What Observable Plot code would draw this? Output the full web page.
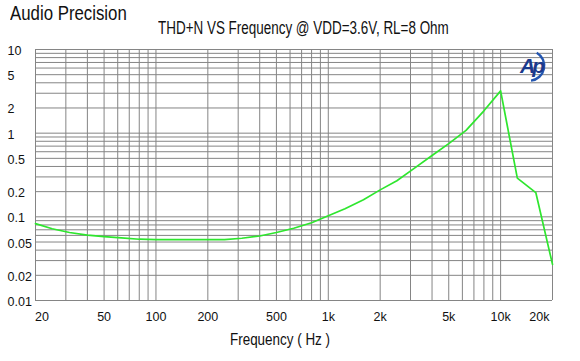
<!DOCTYPE html>
<html><head><meta charset="utf-8">
<script src="https://cdn.jsdelivr.net/npm/d3@7"></script>
<script src="https://cdn.jsdelivr.net/npm/@observablehq/plot@0.6"></script>
<style>
html,body{margin:0;padding:0;background:#fff;}
#wrap{position:relative;width:580px;height:361px;font-family:"Liberation Sans",Arial,sans-serif;color:#111;overflow:hidden;}
.t{position:absolute;white-space:nowrap;transform-origin:0 0;line-height:1;}
#brand{left:10px;top:3px;font-size:20.5px;transform:scaleX(0.82);}
#title{left:158px;top:19px;font-size:18px;transform:scaleX(0.747);}
#xlabel{left:230px;top:331px;font-size:17px;transform:scaleX(0.79);}
#logo{position:absolute;left:510px;top:44px;}
</style></head><body>
<div id="wrap">
<div id="chart"></div>
<div class="t" id="brand">Audio Precision</div>
<div class="t" id="title">THD+N VS Frequency @ VDD=3.6V, RL=8 Ohm</div>
<div class="t" id="xlabel">Frequency ( Hz )</div>
<svg id="logo" width="50" height="45" viewBox="0 0 50 45">
  <path d="M26.7,8.7 A15,15 0 0 1 21,36.6" fill="none" stroke="#2456b0" stroke-width="2.4"/>
  <text x="10" y="29.3" font-family="Liberation Sans, Arial, sans-serif" font-size="21" font-weight="bold" font-style="italic" letter-spacing="-3" fill="#1b3a8c">Ap</text>
</svg>
</div>
<script>
// Measured THD+N (%) vs frequency (Hz)
const freq = [20,25,31.5,40,50,63,80,100,125,160,200,250,315,400,500,630,800,1000,1250,1600,2000,2500,3150,4000,5000,6300,8000,10000,12500,16000,20000];
const thdn = [0.083,0.072,0.065,0.0605,0.058,0.056,0.054,0.0535,0.0533,0.0533,0.0533,0.0535,0.0555,0.059,0.065,0.073,0.085,0.103,0.125,0.16,0.21,0.27,0.38,0.54,0.75,1.08,1.85,3.2,0.29,0.195,0.027];

// Axis ticks and labels
const xTicks = [20,50,100,200,500,1000,2000,5000,10000,20000];
const xLabels = ["20","50","100","200","500","1k","2k","5k","10k","20k"];
const yTicks = [10,5,2,1,0.5,0.2,0.1,0.05,0.02,0.01];
const yLabels = ["10","5","2","1","0.5","0.2","0.1","0.05","0.02","0.01"];

// Grid lines (1..9 per decade)
const xGrid = [20,30,40,50,60,70,80,90,100,200,300,400,500,600,700,800,900,1000,2000,3000,4000,5000,6000,7000,8000,9000,10000,20000];
const yGrid = [0.01,0.02,0.03,0.04,0.05,0.06,0.07,0.08,0.09,0.1,0.2,0.3,0.4,0.5,0.6,0.7,0.8,0.9,1,2,3,4,5,6,7,8,9,10];

const data = freq.map((f, i) => ({f, v: thdn[i]}));
const xt = xTicks.map((t, i) => ({t, label: xLabels[i], i}));
const yt = yTicks.map((t, i) => ({t, label: yLabels[i]}));
const last = xt.length - 1;

const chart = Plot.plot({
  width: 580,
  height: 361,
  marginLeft: 35,
  marginRight: 28,
  marginTop: 49,
  marginBottom: 61,
  style: {fontFamily: "Liberation Sans, Arial, sans-serif", fontSize: "12.5px", background: "white", color: "#111"},
  x: {type: "log", domain: [20, 20000], axis: null},
  y: {type: "log", domain: [0.01, 10], axis: null},
  marks: [
    Plot.ruleX(xGrid, {stroke: "#858585", strokeWidth: 1}),
    Plot.ruleY(yGrid, {stroke: "#858585", strokeWidth: 1}),
    Plot.line(data, {x: "f", y: "v", stroke: "#2ee62e", strokeWidth: 1.7}),
    Plot.text(yt, {y: "t", text: "label", frameAnchor: "left", textAnchor: "start", dx: -28, dy: 1.5, fill: "#111"}),
    Plot.text(xt.filter(d => d.i > 0 && d.i < last), {x: "t", text: "label", frameAnchor: "bottom", dy: 16, lineAnchor: "middle", fill: "#111"}),
    Plot.text(xt.filter(d => d.i === 0), {x: "t", text: "label", frameAnchor: "bottom", dy: 16, dx: -0.5, lineAnchor: "middle", textAnchor: "start", fill: "#111"}),
    Plot.text(xt.filter(d => d.i === last), {x: "t", text: "label", frameAnchor: "bottom", dy: 16, dx: -3, lineAnchor: "middle", textAnchor: "end", fill: "#111"})
  ]
});
document.getElementById("chart").appendChild(chart);
</script>
</body></html>
